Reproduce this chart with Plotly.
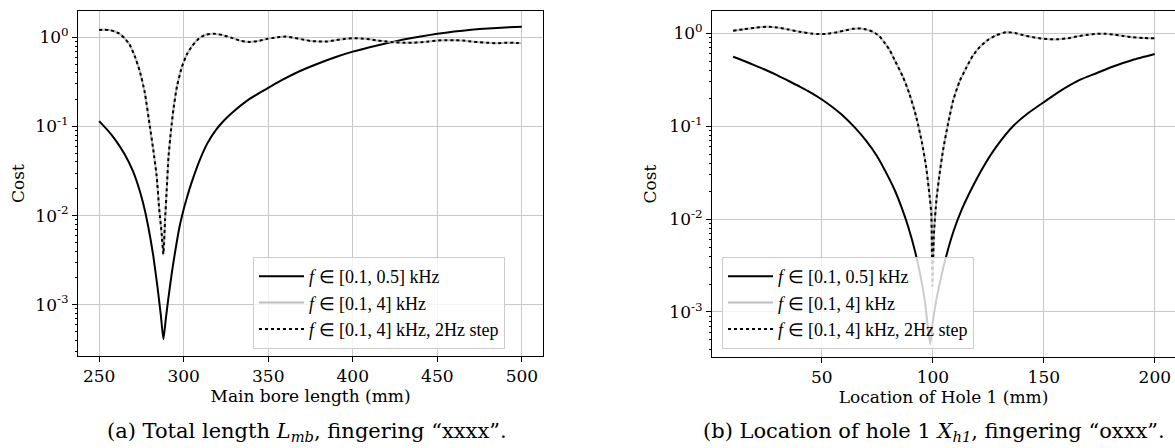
import plotly.graph_objects as go

# ---------------- data: (a) main bore length ----------------
a_x_low = [250, 255, 260, 265, 270, 273, 276, 279, 282, 284.5, 286.5, 288, 289.5, 291, 293, 295,
           297.4, 300, 302.2, 305, 309.2, 314, 319, 324, 329, 339, 348.8, 358, 368.5, 380, 390,
           400, 410, 420, 430, 440, 450, 460, 470, 480, 490, 500]
a_cost_low = [0.115, 0.091, 0.069, 0.049, 0.0316, 0.0219, 0.0138, 0.0076, 0.00355, 0.00158,
              0.00076, 0.00041, 0.00071, 0.0012, 0.00229, 0.00398, 0.00724, 0.01175, 0.0166,
              0.0245, 0.0407, 0.0646, 0.0912, 0.1175, 0.1445, 0.204, 0.263, 0.331, 0.417, 0.513,
              0.603, 0.692, 0.776, 0.861, 0.944, 1.023, 1.096, 1.161, 1.216, 1.259, 1.294, 1.318]

a_x_full = [250, 253, 256, 259, 262, 265, 268, 271, 274, 277, 280, 282, 284, 285.5, 287, 288, 289,
            290, 291, 292.5, 294, 296, 299, 302, 305, 309, 313, 318, 323, 329, 334, 339, 344, 349,
            355, 360, 365, 370, 375, 380, 385, 390, 395, 400, 405, 410, 415, 420, 425, 430, 435,
            440, 445, 450, 455, 460, 465, 470, 475, 480, 485, 490, 495, 500]
a_cost_full = [1.21, 1.22, 1.21, 1.17, 1.1, 0.98, 0.83, 0.62, 0.42, 0.24, 0.1, 0.055, 0.028, 0.012,
               0.0062, 0.0036, 0.009, 0.02, 0.045, 0.09, 0.16, 0.28, 0.47, 0.65, 0.8, 0.97, 1.07,
               1.1, 1.06, 0.98, 0.91, 0.89, 0.91, 0.96, 1.0, 1.02, 0.99, 0.95, 0.91, 0.9, 0.9,
               0.93, 0.96, 0.98, 0.97, 0.95, 0.92, 0.9, 0.88, 0.87, 0.87, 0.88, 0.9, 0.92, 0.93,
               0.93, 0.92, 0.9, 0.88, 0.87, 0.86, 0.87, 0.87, 0.86]
a_cost_step = [1.21, 1.22, 1.21, 1.17, 1.1, 0.98, 0.83, 0.62, 0.42, 0.24, 0.1, 0.055, 0.028, 0.012,
               0.0062, 0.0037, 0.009, 0.02, 0.045, 0.09, 0.16, 0.28, 0.47, 0.65, 0.8, 0.97, 1.07,
               1.1, 1.06, 0.98, 0.91, 0.89, 0.91, 0.96, 1.0, 1.02, 0.99, 0.95, 0.91, 0.9, 0.9,
               0.93, 0.96, 0.98, 0.97, 0.95, 0.92, 0.9, 0.88, 0.87, 0.87, 0.88, 0.9, 0.92, 0.93,
               0.93, 0.92, 0.9, 0.88, 0.87, 0.86, 0.87, 0.87, 0.86]

# ---------------- data: (b) location of hole 1 ----------------
b_x_low = [10, 15, 20, 25, 30, 35, 40, 45, 50, 55, 60, 65, 70, 75, 80, 83, 86, 89, 92, 94.5, 96.5,
           98.8, 100, 101.5, 103.6, 105.8, 109.2, 113, 118.2, 123, 128.7, 136.2, 143, 150.2, 158,
           166.2, 174, 181.2, 190, 200]
b_cost_low = [0.556, 0.501, 0.447, 0.398, 0.351, 0.305, 0.266, 0.229, 0.193, 0.158, 0.126, 0.0955,
              0.0692, 0.0468, 0.0282, 0.02, 0.0132, 0.0081, 0.00447, 0.0024, 0.00126, 0.000447,
              0.000794, 0.00132, 0.00229, 0.0038, 0.00724, 0.0126, 0.0229, 0.0372, 0.0603, 0.1,
              0.138, 0.182, 0.243, 0.313, 0.372, 0.437, 0.513, 0.594]

b_x_full = [10, 15, 20, 25, 30, 35, 40, 45, 48, 52, 56, 60, 64, 67, 70, 73, 76, 78, 80.5, 83, 86.5,
            89.5, 92.5, 95, 97, 98.5, 99.3, 99.8, 100.5, 101.6, 103, 104.6, 107, 109.2, 112, 115.2,
            118, 121.2, 125, 128.7, 133, 137, 140.7, 144, 148, 152, 156, 161, 166, 170, 174, 178,
            182, 186, 190, 195, 200]
b_cost_full = [1.06, 1.1, 1.14, 1.17, 1.15, 1.09, 1.03, 0.99, 0.975, 0.98, 1.01, 1.06, 1.11, 1.12,
               1.09, 1.03, 0.92, 0.8, 0.66, 0.5, 0.34, 0.22, 0.126, 0.068, 0.036, 0.018, 0.0115,
               0.0018, 0.007, 0.016, 0.03, 0.055, 0.11, 0.19, 0.3, 0.43, 0.57, 0.71, 0.85, 0.95,
               1.02, 1.0, 0.95, 0.91, 0.88, 0.86, 0.855, 0.88, 0.93, 0.96, 0.98, 0.98, 0.96, 0.93,
               0.9, 0.885, 0.877]
b_cost_step = [1.06, 1.1, 1.14, 1.17, 1.15, 1.09, 1.03, 0.99, 0.975, 0.98, 1.01, 1.06, 1.11, 1.12,
               1.09, 1.03, 0.92, 0.8, 0.66, 0.5, 0.34, 0.22, 0.126, 0.068, 0.036, 0.018, 0.0115,
               0.0019, 0.007, 0.016, 0.03, 0.055, 0.11, 0.19, 0.3, 0.43, 0.57, 0.71, 0.85, 0.95,
               1.02, 1.0, 0.95, 0.91, 0.88, 0.86, 0.855, 0.88, 0.93, 0.96, 0.98, 0.98, 0.96, 0.93,
               0.9, 0.885, 0.877]

series_names = ["<i>f</i> ∈ [0.1, 0.5] kHz", "<i>f</i> ∈ [0.1, 4] kHz",
                "<i>f</i> ∈ [0.1, 4] kHz, 2Hz step"]
a_xticks = [250, 300, 350, 400, 450, 500]
b_xticks = [50, 100, 150, 200]
y_ticks = [1e-3, 1e-2, 1e-1, 1]
y_ticktext = ["10<sup>-3</sup>", "10<sup>-2</sup>", "10<sup>-1</sup>", "10<sup>0</sup>"]
minor_vals = [m * 10.0 ** e for e in range(-4, 1) for m in range(2, 10)]

W, H = 1175, 448
TICKFONT = dict(family="DejaVu Serif", size=17, color="black")
LEGFONT = dict(family="Liberation Serif", size=18, color="black")

fig = go.Figure()

styles = [dict(color="black", width=2, shape="spline", smoothing=0.5),
          dict(color="#bdbdbd", width=2, shape="spline", smoothing=0.5),
          dict(color="black", width=2, dash="dot", shape="spline", smoothing=0.5)]

def add_set(xs, ys_list, xa, ya, leg):
    for (x, y), name, st in zip(zip(xs, ys_list), series_names, styles):
        fig.add_trace(go.Scatter(x=x, y=y, mode="lines", name=name, line=st,
                                 xaxis=xa, yaxis=ya, legend=leg, legendgroup=leg + name))

add_set([a_x_low, a_x_full, a_x_full], [a_cost_low, a_cost_full, a_cost_step], "x", "y", "legend")
add_set([b_x_low, b_x_full, b_x_full], [b_cost_low, b_cost_full, b_cost_step], "x2", "y2", "legend2")

common_x = dict(showline=True, linecolor="black", linewidth=1, ticks="outside", ticklen=5,
                tickwidth=1, tickcolor="black", showgrid=True, gridcolor="#c8c8c8", gridwidth=1,
                zeroline=False, tickfont=TICKFONT, automargin=False)
common_y = dict(type="log", showline=True, linecolor="black", linewidth=1, ticks="outside",
                ticklen=5, tickwidth=1, tickcolor="black", showgrid=True, gridcolor="#c8c8c8",
                gridwidth=1, zeroline=False, tickfont=TICKFONT, automargin=False,
                tickmode="array", tickvals=y_ticks, ticktext=y_ticktext,
                minor=dict(tickmode="array", tickvals=minor_vals, ticks="outside", ticklen=2.5,
                           tickwidth=1, tickcolor="black", showgrid=False))

leg_common = dict(xanchor="left", yanchor="top", bgcolor="rgba(255,255,255,0.8)",
                  bordercolor="#cccccc", borderwidth=1, font=LEGFONT, tracegroupgap=0,
                  itemwidth=45)

fig.update_layout(
    width=W, height=H, margin=dict(l=0, r=0, t=0, b=0),
    paper_bgcolor="white", plot_bgcolor="white",
    xaxis=dict(common_x, domain=[78 / W, 543 / W], range=[237.5, 512.5], mirror=True,
               tickmode="array", tickvals=a_xticks, anchor="y",
               title=dict(text="Main bore length (mm)", font=TICKFONT, standoff=4)),
    yaxis=dict(common_y, domain=[1 - 356 / H, 1 - 11 / H], range=[-3.576, 0.296], mirror=True,
               anchor="x", title=dict(text="Cost", font=TICKFONT, standoff=6)),
    xaxis2=dict(common_x, domain=[712 / W, 1.0], range=[0.5, 209.1], mirror=True,
                tickmode="array", tickvals=b_xticks, anchor="y2",
                title=dict(text="Location of Hole 1 (mm)", font=TICKFONT, standoff=4)),
    yaxis2=dict(common_y, domain=[1 - 357 / H, 1 - 11 / H], range=[-3.484, 0.237], mirror=False,
                anchor="x2", title=dict(text="Cost", font=TICKFONT, standoff=8)),
    legend=dict(leg_common, x=253 / W, y=1 - 257 / H),
    legend2=dict(leg_common, x=722 / W, y=1 - 257 / H),
    showlegend=True,
)

CAPFONT = dict(family="DejaVu Serif", size=21, color="black")
fig.add_annotation(text="(a) Total length <i>L<sub>mb</sub></i>, fingering “xxxx”.",
                   x=307 / W, y=1 - 432 / H, xref="paper", yref="paper",
                   showarrow=False, font=CAPFONT, xanchor="center", yanchor="middle")
fig.add_annotation(text="(b) Location of hole 1 <i>X<sub>h1</sub></i>, fingering “oxxx”.",
                   x=934 / W, y=1 - 432 / H, xref="paper", yref="paper",
                   showarrow=False, font=CAPFONT, xanchor="center", yanchor="middle")

fig.write_html("out.html", config={"displayModeBar": False},
               post_script="document.body.style.margin='0';")
